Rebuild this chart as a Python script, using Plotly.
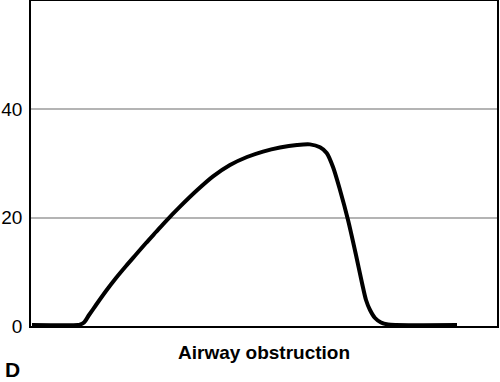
import plotly.graph_objects as go

# Curve (x in arbitrary units 0-100, y in axis units)
x_vals = [0.21, 10.09, 10.50, 11.37, 12.45, 13.95, 16.09, 18.24, 20.39, 22.53, 24.68,
          26.82, 28.97, 31.76, 35.62, 39.06, 42.70, 46.35, 49.79, 53.43, 57.08, 59.87,
          62.02, 63.45, 64.81, 66.31, 68.03, 69.74, 71.03, 71.89, 72.75, 73.82, 75.11,
          76.61, 78.33, 91.42]
y_vals = [0.18, 0.18, 0.25, 0.65, 2.03, 3.88, 6.46, 8.86, 11.08, 13.20, 15.32,
          17.35, 19.38, 21.85, 25.05, 27.62, 29.72, 31.20, 32.20, 32.95, 33.42, 33.53,
          32.99, 31.94, 29.35, 25.11, 19.57, 13.11, 7.94, 4.80, 2.95, 1.48, 0.65,
          0.28, 0.18, 0.18]
y_ticks = [0, 20, 40]
x_title = "Airway obstruction"
panel_label = "D"

fig = go.Figure()
fig.add_trace(go.Scatter(x=x_vals, y=y_vals, mode="lines",
                         line=dict(color="black", width=4, shape="spline", smoothing=0.8),
                         hoverinfo="skip", showlegend=False))

fig.update_layout(
    width=500, height=382,
    margin=dict(l=31, r=3, t=1, b=56, autoexpand=False),
    paper_bgcolor="white", plot_bgcolor="white",
    font=dict(family="Liberation Sans, Arial, sans-serif", color="black"),
    xaxis=dict(range=[0, 100], showgrid=False, zeroline=False, showticklabels=False,
               ticks="", showline=True, linecolor="black", linewidth=1.5, mirror=True,
               automargin=False),
    yaxis=dict(range=[0, 60], tickvals=y_ticks, ticktext=[str(v) for v in y_ticks],
               showgrid=True, gridcolor="#b4b4b4", gridwidth=1.5, zeroline=False,
               showline=True, linecolor="black", linewidth=1.5, mirror=True,
               ticks="", tickfont=dict(size=19), ticklabelstandoff=3, automargin=False),
    annotations=[
        dict(text="<b>" + x_title + "</b>", xref="paper", yref="paper",
             x=0.5, y=-0.08, xanchor="center", yanchor="middle",
             showarrow=False, font=dict(size=19)),
        dict(text="<b>" + panel_label + "</b>", xref="paper", yref="paper",
             x=-0.06, y=-0.134, xanchor="left", yanchor="middle",
             showarrow=False, font=dict(size=21)),
    ],
)

fig.write_html("out.html", config={"displayModeBar": False},
               post_script="document.body.style.margin='0';document.body.style.padding='0';")
